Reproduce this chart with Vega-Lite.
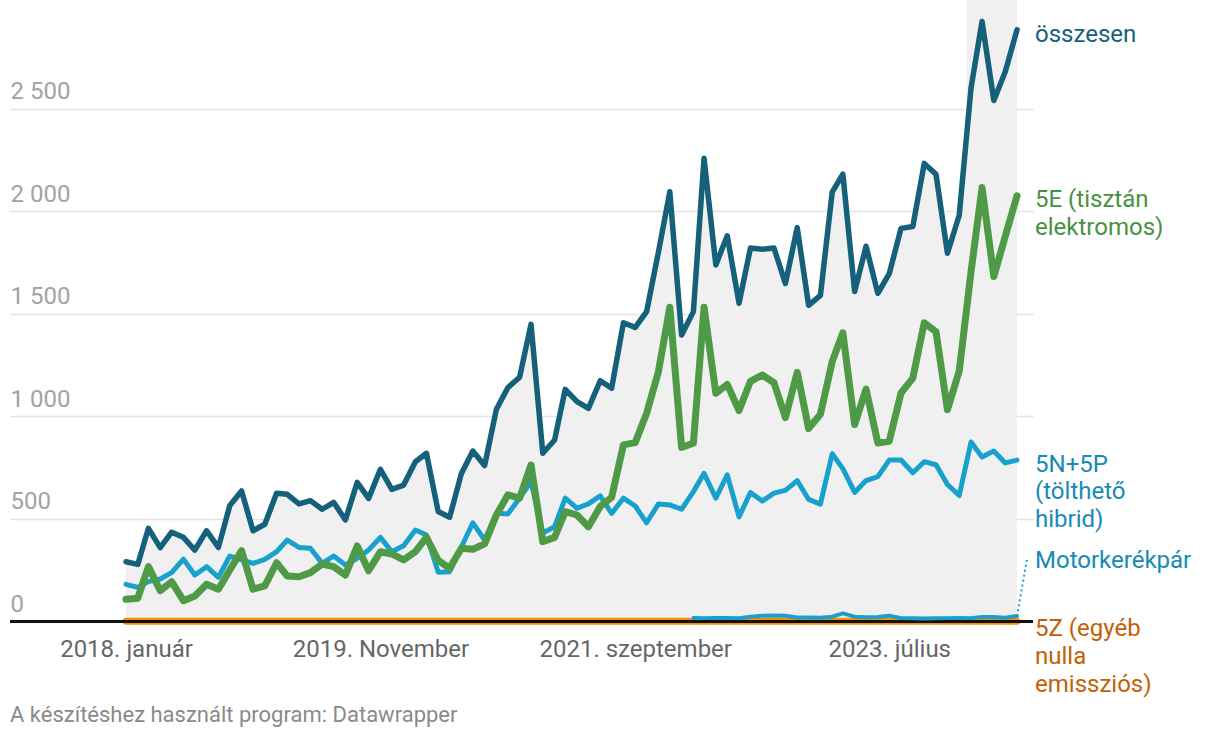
{
  "$schema": "https://vega.github.io/schema/vega-lite/v6.json",
  "width": 1023,
  "height": 621.2,
  "autosize": "none",
  "padding": {"left": 10, "top": 0, "right": 187, "bottom": 116.8},
  "background": "white",
  "config": {
    "font": "Roboto",
    "view": {"stroke": null},
    "axis": {"labelFont": "Roboto", "titleFont": "Roboto"}
  },
  "title": {
    "text": "A készítéshez használt program: Datawrapper",
    "orient": "bottom",
    "anchor": "start",
    "frame": "group",
    "fontSize": 22,
    "fontWeight": "normal",
    "color": "#8a8a8a",
    "font": "Roboto",
    "offset": 8
  },
  "data": {
    "values": [
      {"date": "2018-01-01", "osszesen": 290, "e5": 107, "n5p5": 180, "z5": 0, "moto": null},
      {"date": "2018-02-01", "osszesen": 277, "e5": 112, "n5p5": 165, "z5": 0, "moto": null},
      {"date": "2018-03-01", "osszesen": 453, "e5": 266, "n5p5": 193, "z5": 0, "moto": null},
      {"date": "2018-04-01", "osszesen": 359, "e5": 149, "n5p5": 206, "z5": 0, "moto": null},
      {"date": "2018-05-01", "osszesen": 434, "e5": 193, "n5p5": 237, "z5": 0, "moto": null},
      {"date": "2018-06-01", "osszesen": 409, "e5": 100, "n5p5": 303, "z5": 0, "moto": null},
      {"date": "2018-07-01", "osszesen": 347, "e5": 123, "n5p5": 225, "z5": 0, "moto": null},
      {"date": "2018-08-01", "osszesen": 441, "e5": 180, "n5p5": 266, "z5": 0, "moto": null},
      {"date": "2018-09-01", "osszesen": 360, "e5": 156, "n5p5": 214, "z5": 0, "moto": null},
      {"date": "2018-10-01", "osszesen": 564, "e5": 250, "n5p5": 318, "z5": 0, "moto": null},
      {"date": "2018-11-01", "osszesen": 635, "e5": 344, "n5p5": 299, "z5": 0, "moto": null},
      {"date": "2018-12-01", "osszesen": 441, "e5": 156, "n5p5": 282, "z5": 0, "moto": null},
      {"date": "2019-01-01", "osszesen": 473, "e5": 172, "n5p5": 302, "z5": 0, "moto": null},
      {"date": "2019-02-01", "osszesen": 624, "e5": 285, "n5p5": 339, "z5": 0, "moto": null},
      {"date": "2019-03-01", "osszesen": 619, "e5": 220, "n5p5": 396, "z5": 0, "moto": null},
      {"date": "2019-04-01", "osszesen": 572, "e5": 217, "n5p5": 360, "z5": 0, "moto": null},
      {"date": "2019-05-01", "osszesen": 588, "e5": 237, "n5p5": 356, "z5": 0, "moto": null},
      {"date": "2019-06-01", "osszesen": 546, "e5": 279, "n5p5": 282, "z5": 0, "moto": null},
      {"date": "2019-07-01", "osszesen": 580, "e5": 266, "n5p5": 318, "z5": 0, "moto": null},
      {"date": "2019-08-01", "osszesen": 494, "e5": 225, "n5p5": 274, "z5": 0, "moto": null},
      {"date": "2019-09-01", "osszesen": 677, "e5": 367, "n5p5": 307, "z5": 0, "moto": null},
      {"date": "2019-10-01", "osszesen": 599, "e5": 246, "n5p5": 347, "z5": 0, "moto": null},
      {"date": "2019-11-01", "osszesen": 741, "e5": 339, "n5p5": 409, "z5": 0, "moto": null},
      {"date": "2019-12-01", "osszesen": 643, "e5": 328, "n5p5": 339, "z5": 0, "moto": null},
      {"date": "2020-01-01", "osszesen": 664, "e5": 299, "n5p5": 368, "z5": 0, "moto": null},
      {"date": "2020-02-01", "osszesen": 778, "e5": 339, "n5p5": 445, "z5": 0, "moto": null},
      {"date": "2020-03-01", "osszesen": 819, "e5": 409, "n5p5": 420, "z5": 0, "moto": null},
      {"date": "2020-04-01", "osszesen": 535, "e5": 297, "n5p5": 239, "z5": 0, "moto": null},
      {"date": "2020-05-01", "osszesen": 507, "e5": 258, "n5p5": 241, "z5": 0, "moto": null},
      {"date": "2020-06-01", "osszesen": 721, "e5": 356, "n5p5": 362, "z5": 0, "moto": null},
      {"date": "2020-07-01", "osszesen": 830, "e5": 351, "n5p5": 480, "z5": 0, "moto": null},
      {"date": "2020-08-01", "osszesen": 759, "e5": 377, "n5p5": 396, "z5": 0, "moto": null},
      {"date": "2020-09-01", "osszesen": 1034, "e5": 518, "n5p5": 526, "z5": 0, "moto": null},
      {"date": "2020-10-01", "osszesen": 1139, "e5": 616, "n5p5": 523, "z5": 0, "moto": null},
      {"date": "2020-11-01", "osszesen": 1190, "e5": 600, "n5p5": 600, "z5": 0, "moto": null},
      {"date": "2020-12-01", "osszesen": 1448, "e5": 762, "n5p5": 680, "z5": 0, "moto": null},
      {"date": "2021-01-01", "osszesen": 819, "e5": 388, "n5p5": 430, "z5": 0, "moto": null},
      {"date": "2021-02-01", "osszesen": 884, "e5": 409, "n5p5": 461, "z5": 0, "moto": null},
      {"date": "2021-03-01", "osszesen": 1131, "e5": 534, "n5p5": 600, "z5": 0, "moto": null},
      {"date": "2021-04-01", "osszesen": 1071, "e5": 518, "n5p5": 551, "z5": 0, "moto": null},
      {"date": "2021-05-01", "osszesen": 1038, "e5": 461, "n5p5": 572, "z5": 0, "moto": null},
      {"date": "2021-06-01", "osszesen": 1173, "e5": 559, "n5p5": 611, "z5": 0, "moto": null},
      {"date": "2021-07-01", "osszesen": 1136, "e5": 604, "n5p5": 526, "z5": 0, "moto": null},
      {"date": "2021-08-01", "osszesen": 1456, "e5": 860, "n5p5": 600, "z5": 0, "moto": null},
      {"date": "2021-09-01", "osszesen": 1433, "e5": 871, "n5p5": 562, "z5": 0, "moto": null},
      {"date": "2021-10-01", "osszesen": 1510, "e5": 1014, "n5p5": 480, "z5": 0, "moto": null},
      {"date": "2021-11-01", "osszesen": 1800, "e5": 1217, "n5p5": 572, "z5": 0, "moto": null},
      {"date": "2021-12-01", "osszesen": 2095, "e5": 1531, "n5p5": 567, "z5": 0, "moto": null},
      {"date": "2022-01-01", "osszesen": 1396, "e5": 848, "n5p5": 546, "z5": 0, "moto": null},
      {"date": "2022-02-01", "osszesen": 1510, "e5": 868, "n5p5": 632, "z5": 0, "moto": 16},
      {"date": "2022-03-01", "osszesen": 2258, "e5": 1531, "n5p5": 721, "z5": 0, "moto": 15},
      {"date": "2022-04-01", "osszesen": 1738, "e5": 1112, "n5p5": 600, "z5": 0, "moto": 16},
      {"date": "2022-05-01", "osszesen": 1880, "e5": 1155, "n5p5": 714, "z5": 0, "moto": 16},
      {"date": "2022-06-01", "osszesen": 1551, "e5": 1028, "n5p5": 509, "z5": 0, "moto": 15},
      {"date": "2022-07-01", "osszesen": 1820, "e5": 1170, "n5p5": 628, "z5": 0, "moto": 22},
      {"date": "2022-08-01", "osszesen": 1814, "e5": 1201, "n5p5": 586, "z5": 0, "moto": 27},
      {"date": "2022-09-01", "osszesen": 1820, "e5": 1163, "n5p5": 625, "z5": 0, "moto": 28},
      {"date": "2022-10-01", "osszesen": 1647, "e5": 993, "n5p5": 638, "z5": 0, "moto": 27},
      {"date": "2022-11-01", "osszesen": 1920, "e5": 1214, "n5p5": 686, "z5": 0, "moto": 18},
      {"date": "2022-12-01", "osszesen": 1541, "e5": 940, "n5p5": 594, "z5": 0, "moto": 18},
      {"date": "2023-01-01", "osszesen": 1589, "e5": 1009, "n5p5": 571, "z5": 0, "moto": 17},
      {"date": "2023-02-01", "osszesen": 2093, "e5": 1266, "n5p5": 817, "z5": 0, "moto": 22},
      {"date": "2023-03-01", "osszesen": 2181, "e5": 1407, "n5p5": 744, "z5": 0, "moto": 38},
      {"date": "2023-04-01", "osszesen": 1608, "e5": 959, "n5p5": 628, "z5": 0, "moto": 22},
      {"date": "2023-05-01", "osszesen": 1829, "e5": 1132, "n5p5": 686, "z5": 0, "moto": 19},
      {"date": "2023-06-01", "osszesen": 1599, "e5": 869, "n5p5": 705, "z5": 0, "moto": 20},
      {"date": "2023-07-01", "osszesen": 1695, "e5": 878, "n5p5": 786, "z5": 0, "moto": 27},
      {"date": "2023-08-01", "osszesen": 1916, "e5": 1113, "n5p5": 786, "z5": 0, "moto": 15},
      {"date": "2023-09-01", "osszesen": 1925, "e5": 1186, "n5p5": 724, "z5": 0, "moto": 14},
      {"date": "2023-10-01", "osszesen": 2233, "e5": 1455, "n5p5": 778, "z5": 0, "moto": 13},
      {"date": "2023-11-01", "osszesen": 2180, "e5": 1412, "n5p5": 763, "z5": 0, "moto": 14},
      {"date": "2023-12-01", "osszesen": 1795, "e5": 1032, "n5p5": 667, "z5": 0, "moto": 15},
      {"date": "2024-01-01", "osszesen": 1980, "e5": 1220, "n5p5": 613, "z5": 0, "moto": 16},
      {"date": "2024-02-01", "osszesen": 2600, "e5": 1704, "n5p5": 874, "z5": 0, "moto": 15},
      {"date": "2024-03-01", "osszesen": 2925, "e5": 2115, "n5p5": 801, "z5": 0, "moto": 20},
      {"date": "2024-04-01", "osszesen": 2540, "e5": 1681, "n5p5": 830, "z5": 0, "moto": 21},
      {"date": "2024-05-01", "osszesen": 2680, "e5": 1877, "n5p5": 772, "z5": 0, "moto": 17},
      {"date": "2024-06-01", "osszesen": 2885, "e5": 2075, "n5p5": 786, "z5": 0, "moto": 25}
    ]
  },
  "layer": [
    {
      "mark": {"type": "area", "color": "#f0f0f0"},
      "encoding": {
        "x": {
          "field": "date",
          "type": "temporal",
          "scale": {
            "domain": [
              {"year": 2017, "month": 3, "date": 2, "utc": true},
              {"year": 2024, "month": 7, "date": 13, "utc": true}
            ]
          },
          "axis": {
            "title": null,
            "grid": false,
            "domain": false,
            "ticks": false,
            "tickSize": 0,
            "labelPadding": 16.5,
            "labelFontSize": 24,
            "labelColor": "#666666",
            "labelOverlap": false,
            "labelFlush": false,
            "labelBound": false,
            "labelLimit": 0,
            "values": [
              {"year": 2018, "month": 1, "date": 1, "utc": true},
              {"year": 2019, "month": 11, "date": 1, "utc": true},
              {"year": 2021, "month": 9, "date": 1, "utc": true},
              {"year": 2023, "month": 7, "date": 1, "utc": true}
            ],
            "labelExpr": "utcyear(datum.value) + '. ' + ['január','február','március','április','május','június','július','augusztus','szeptember','október','November','december'][utcmonth(datum.value)]"
          }
        },
        "y": {
          "field": "osszesen",
          "type": "quantitative",
          "scale": {"domain": [0, 3030], "nice": false, "zero": true},
          "axis": {
            "title": null,
            "grid": true,
            "gridColor": "#e3e3e3",
            "gridWidth": 1.5,
            "domain": false,
            "ticks": false,
            "tickSize": 0,
            "labelAlign": "left",
            "labelBaseline": "alphabetic",
            "labelPadding": 0,
            "labelOffset": -10,
            "labelFontSize": 24,
            "labelColor": "#a3a3a3",
            "labelOverlap": false,
            "labelFlush": false,
            "labelBound": false,
            "values": [0, 500, 1000, 1500, 2000, 2500],
            "labelExpr": "replace(format(datum.value, ','), ',', ' ')"
          }
        }
      }
    },
    {
      "data": {"values": [{"start": "2024-01-20", "end": "2024-06-01"}]},
      "mark": {"type": "rect", "color": "#f0f0f0"},
      "encoding": {
        "x": {"field": "start", "type": "temporal"},
        "x2": {"field": "end"}
      }
    },
    {
      "mark": {"type": "line", "color": "#fa8c00", "strokeWidth": 7, "strokeCap": "round"},
      "encoding": {
        "x": {"field": "date", "type": "temporal"},
        "y": {"field": "z5", "type": "quantitative"}
      }
    },
    {
      "mark": {"type": "rule", "color": "#111111", "strokeWidth": 2},
      "encoding": {"y": {"datum": 0, "type": "quantitative"}}
    },
    {
      "mark": {"type": "line", "color": "#18a1cd", "strokeWidth": 4, "strokeCap": "round", "strokeJoin": "round"},
      "encoding": {
        "x": {"field": "date", "type": "temporal"},
        "y": {"field": "moto", "type": "quantitative"}
      }
    },
    {
      "mark": {"type": "line", "color": "#18a1cd", "strokeWidth": 5, "strokeCap": "round", "strokeJoin": "round"},
      "encoding": {
        "x": {"field": "date", "type": "temporal"},
        "y": {"field": "n5p5", "type": "quantitative"}
      }
    },
    {
      "mark": {"type": "line", "color": "#4f9a46", "strokeWidth": 7, "strokeCap": "round", "strokeJoin": "round"},
      "encoding": {
        "x": {"field": "date", "type": "temporal"},
        "y": {"field": "e5", "type": "quantitative"}
      }
    },
    {
      "mark": {"type": "line", "color": "#15607a", "strokeWidth": 5.5, "strokeCap": "round", "strokeJoin": "round"},
      "encoding": {
        "x": {"field": "date", "type": "temporal"},
        "y": {"field": "osszesen", "type": "quantitative"}
      }
    },
    {
      "transform": [{"filter": "utcyear(datum.date) === 2024 && utcmonth(datum.date) === 5"}],
      "mark": {"type": "rule", "color": "#18a1cd", "strokeWidth": 2, "strokeDash": [2, 3], "x2Offset": 10, "y2Offset": -57},
      "encoding": {
        "x": {"field": "date", "type": "temporal"},
        "x2": {"field": "date"},
        "y": {"field": "moto", "type": "quantitative"},
        "y2": {"field": "moto"}
      }
    },
    {
      "transform": [{"filter": "utcyear(datum.date) === 2024 && utcmonth(datum.date) === 5"}],
      "mark": {"type": "text", "align": "left", "baseline": "alphabetic", "dx": 18, "dy": 12, "fontSize": 24, "font": "Roboto", "color": "#15607a"},
      "encoding": {
        "x": {"field": "date", "type": "temporal"},
        "y": {"field": "osszesen", "type": "quantitative"},
        "text": {"value": "összesen"}
      }
    },
    {
      "transform": [{"filter": "utcyear(datum.date) === 2024 && utcmonth(datum.date) === 5"}],
      "mark": {"type": "text", "align": "left", "baseline": "alphabetic", "dx": 18, "dy": 11.5, "fontSize": 24, "font": "Roboto", "lineHeight": 27.7, "color": "#48913f"},
      "encoding": {
        "x": {"field": "date", "type": "temporal"},
        "y": {"field": "e5", "type": "quantitative"},
        "text": {"value": ["5E (tisztán", "elektromos)"]}
      }
    },
    {
      "transform": [{"filter": "utcyear(datum.date) === 2024 && utcmonth(datum.date) === 5"}],
      "mark": {"type": "text", "align": "left", "baseline": "alphabetic", "dx": 18, "dy": 11.7, "fontSize": 24, "font": "Roboto", "lineHeight": 27.7, "color": "#178ab5"},
      "encoding": {
        "x": {"field": "date", "type": "temporal"},
        "y": {"field": "n5p5", "type": "quantitative"},
        "text": {"value": ["5N+5P", "(tölthető", "hibrid)"]}
      }
    },
    {
      "transform": [{"filter": "utcyear(datum.date) === 2024 && utcmonth(datum.date) === 5"}],
      "mark": {"type": "text", "align": "left", "baseline": "alphabetic", "dx": 18, "dy": -47.8, "fontSize": 24, "font": "Roboto", "color": "#178ab5"},
      "encoding": {
        "x": {"field": "date", "type": "temporal"},
        "y": {"field": "moto", "type": "quantitative"},
        "text": {"value": "Motorkerékpár"}
      }
    },
    {
      "transform": [{"filter": "utcyear(datum.date) === 2024 && utcmonth(datum.date) === 5"}],
      "mark": {"type": "text", "align": "left", "baseline": "alphabetic", "dx": 18, "dy": 15, "fontSize": 24, "font": "Roboto", "lineHeight": 27.7, "color": "#c45f08"},
      "encoding": {
        "x": {"field": "date", "type": "temporal"},
        "y": {"field": "z5", "type": "quantitative"},
        "text": {"value": ["5Z (egyéb", "nulla", "emissziós)"]}
      }
    }
  ]
}
